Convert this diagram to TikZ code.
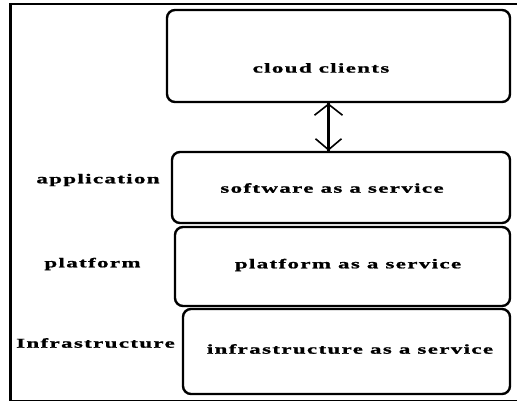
\documentclass[tikz,border=0pt]{standalone}
\usepackage{fontspec}
\usetikzlibrary{arrows.meta}
\newfontfamily\lblfont{Liberation Serif}[FakeStretch=1.7,LetterSpace=10,FakeBold=1.2]
\begin{document}
\begin{tikzpicture}[x=1pt,y=-1pt,
  layer/.style={draw,line width=2.4pt,rounded corners=8pt,inner sep=0pt},
  txt/.style={font=\lblfont\bfseries\fontsize{13.5}{15}\selectfont,inner sep=0pt,anchor=center},
  link/.style={line width=1.6pt,{Straight Barb[length=11pt,width=28pt]}-{Straight Barb[length=11pt,width=26pt]}},
  shaft/.style={line width=3pt}]
\useasboundingbox (0,0) rectangle (517,402);
% outer frame: heavy left edge, lighter top and bottom
\draw[line width=1.5pt] (517,4) -- (10.5,4);
\draw[line width=1.5pt] (10.5,400.5) -- (517,400.5);
\draw[line width=3pt] (10.5,3.3) -- (10.5,401.2);
% stacked layers
\node[layer,minimum width=343pt,minimum height=92pt] (cc) at (338.5,56) {};
\node[layer,minimum width=338pt,minimum height=71pt] (saas) at (341,187.5) {};
\node[layer,minimum width=335pt,minimum height=79pt] (paas) at (342.5,266.5) {};
\node[layer,minimum width=327pt,minimum height=85pt] (iaas) at (346.5,351.5) {};
% texts inside the layers
\node[txt] (cct) at (321,68) {cloud clients};
\node[txt] (saast) at (332,188) {software as a service};
\node[txt] (paast) at (348,265) {platform as a service};
\node[txt] (iaast) at (350,349) {infrastructure as a service};
% layer names on the left
\node[txt] (app) at (98,180) {application};
\node[txt] (plat) at (92.5,264) {platform};
\node[txt] (infra) at (95.5,343) {Infrastructure};
% two-way link between clients and software layer
\coordinate (ax) at (328.5,0);
\draw[link] (cc.south -| ax) -- (saas.north -| ax);
\draw[shaft] ([yshift=1pt]cc.south -| ax) -- ([yshift=-1pt]saas.north -| ax);
\end{tikzpicture}
\end{document}
